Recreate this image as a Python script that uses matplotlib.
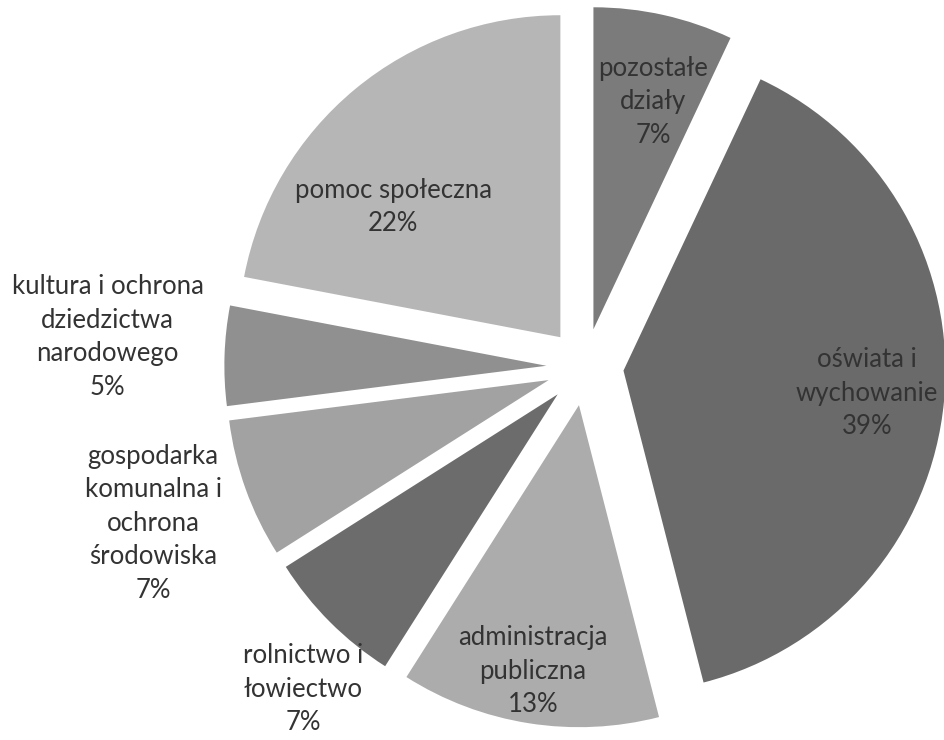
import numpy as np
import matplotlib
matplotlib.use('Agg')
from matplotlib import pyplot as plt

# slices, clockwise from 12 o'clock
labels = ['pozostałe\ndziały', 'oświata i\nwychowanie', 'administracja\npubliczna',
          'rolnictwo i\nłowiectwo', 'gospodarka\nkomunalna i\nochrona\nśrodowiska',
          'kultura i ochrona\ndziedzictwa\nnarodowego', 'pomoc społeczna']
shares = [7, 39, 13, 7, 7, 5, 22]
colors = ['#7b7b7b', '#6a6a6a', '#acacac', '#6c6c6c', '#a2a2a2', '#909090', '#b6b6b6']

# label placement (radius, angle in degrees) relative to pie centre
label_r = [0.85, 0.88, 0.958, 1.33, 1.426, 1.485, 0.776]
label_a = [75.6, -5.3, -99.7, -131.2, -160.1, 176.4, 140.2]

plt.rcParams['font.family'] = ['Lato', 'DejaVu Sans']

fig = plt.figure(figsize=(9.44, 7.40), dpi=100)
ax = fig.add_axes([0, 0, 1, 1])

ax.pie(shares, colors=colors, startangle=90, counterclock=False,
       explode=[0.12] * len(shares), radius=1.0,
       wedgeprops=dict(linewidth=0))

for lab, val, r, a in zip(labels, shares, label_r, label_a):
    t = np.deg2rad(a)
    ax.text(r * np.cos(t), r * np.sin(t), f'{lab}\n{val}%', ha='center', va='center',
            fontsize=18.5, color='#333333', linespacing=1.42)

ax.set_xlim(-585 / 322, (944 - 585) / 322)
ax.set_ylim(-(740 - 367) / 322, 367 / 322)
ax.set_aspect('auto')
ax.axis('off')

plt.savefig('out.png', dpi=100)
plt.close()
